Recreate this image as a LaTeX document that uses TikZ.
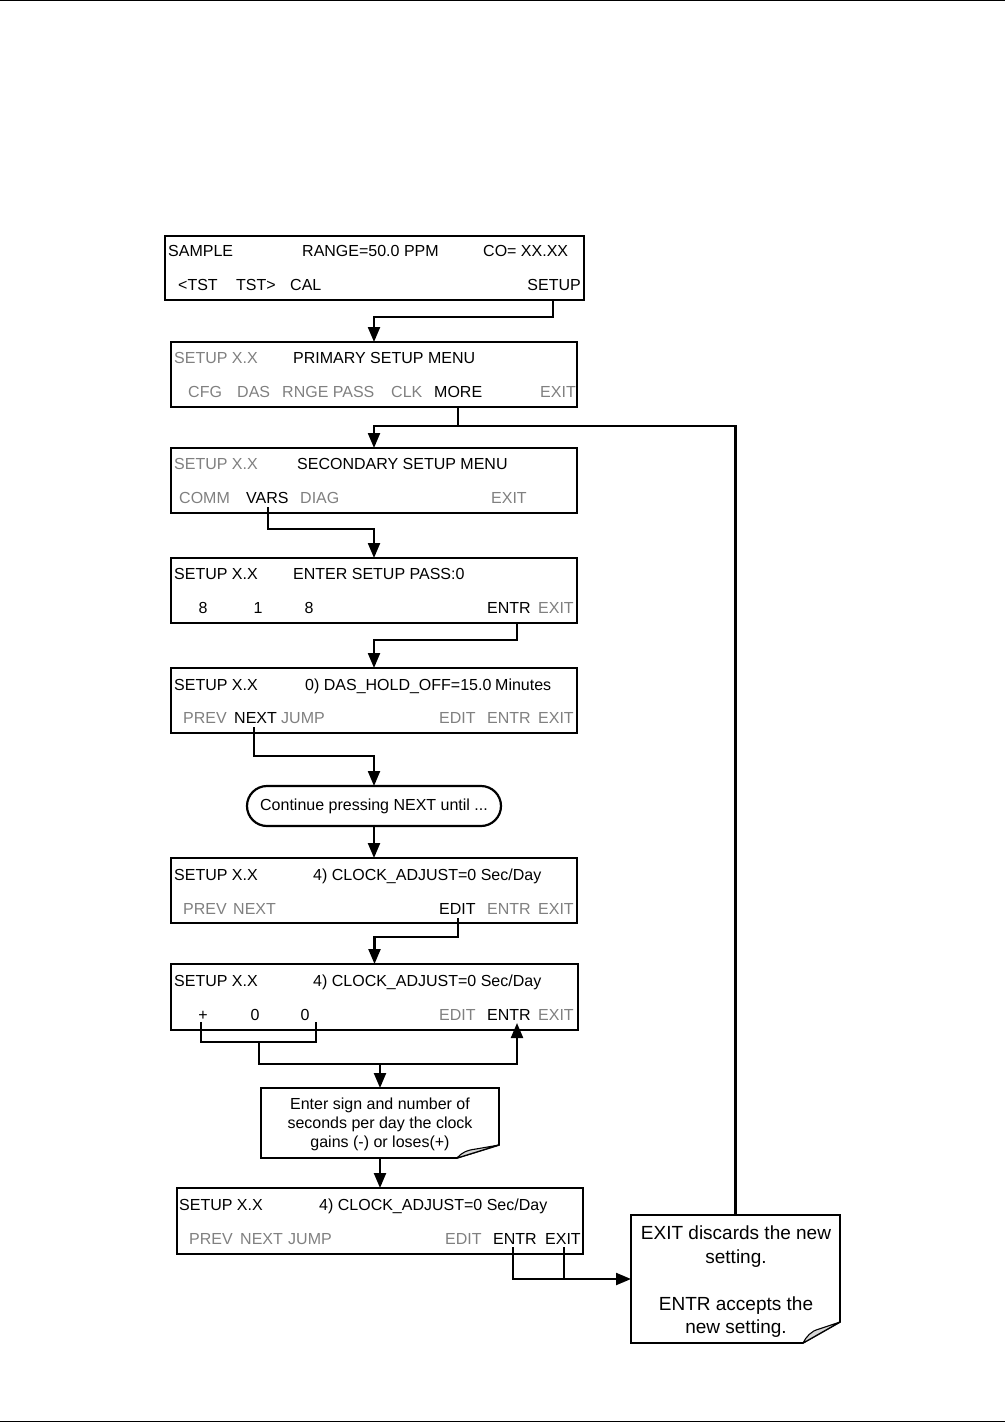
\documentclass[tikz,border=0pt]{standalone}
\usepackage{fontspec}
\setmainfont{Liberation Sans}
\usetikzlibrary{arrows.meta,calc}
\definecolor{mgray}{RGB}{128,128,128}
\definecolor{flapgray}{RGB}{215,215,215}
\begin{document}
\begin{tikzpicture}[x=1pt,y=-1pt,
  scr/.style={draw,line width=2.7pt,inner sep=0pt,outer sep=0pt},
  conn/.style={line width=2.2pt},
  arr/.style={conn,-{Triangle[length=15pt,width=12pt]}},
  tb/.style={anchor=base west,inner sep=0pt,font=\fontsize{16}{19}\selectfont,text=black},
  tg/.style={tb,text=mgray},
  tbe/.style={tb,anchor=base east},
  tge/.style={tg,anchor=base east},
  tbc/.style={tb,anchor=base},
  notebox/.style={inner sep=0pt,outer sep=0pt},
  notetext/.style={align=center,inner sep=0pt,text=black}
]
\useasboundingbox (0,0) rectangle (1005,1422);
% page rules
\coordinate (tl) at (0,0.7); \coordinate (tr) at (1005,0.7);
\coordinate (bl) at (0,1421.3); \coordinate (br) at (1005,1421.3);
\draw[line width=1.3pt] (tl) -- (tr);
\draw[line width=1.3pt] (bl) -- (br);

% ---------- screens ----------
\node[scr,minimum width=419pt,minimum height=64pt] (b1) at (374.5,268) {};
\node[scr,minimum width=406pt,minimum height=65pt] (b2) at (374,374.5) {};
\node[scr,minimum width=406pt,minimum height=65pt] (b3) at (374,480.5) {};
\node[scr,minimum width=406pt,minimum height=65pt] (b4) at (374,590.5) {};
\node[scr,minimum width=406pt,minimum height=65pt] (b5) at (374,700.5) {};
\node[scr,minimum width=406pt,minimum height=65pt] (b7) at (374,890.5) {};
\node[scr,minimum width=407pt,minimum height=66pt] (b8) at (374.5,997) {};
\node[scr,minimum width=406pt,minimum height=66pt] (b10) at (380,1221) {};

% b1
\node[tb] (t1a) at (168,256) {SAMPLE};
\node[tb] (t1b) at (302,256) {RANGE=50.0 PPM};
\node[tb] (t1c) at (483,256) {CO= XX.XX};
\node[tb] (t1d) at (178,290) {<TST};
\node[tb] (t1e) at (236,290) {TST>};
\node[tb] (t1f) at (290,290) {CAL};
\node[tbe] (t1g) at (581,290) {SETUP};
% b2
\node[tg] (t2a) at (174,363) {SETUP X.X};
\node[tb] (t2b) at (293,363) {PRIMARY SETUP MENU};
\node[tg] (t2c) at (188,397) {CFG};
\node[tg] (t2d) at (237,397) {DAS};
\node[tg] (t2e) at (282,397) {RNGE PASS};
\node[tg] (t2f) at (391,397) {CLK};
\node[tb] (t2g) at (434,397) {MORE};
\node[tge] (t2h) at (576,397) {EXIT};
% b3
\node[tg] (t3a) at (174,469) {SETUP X.X};
\node[tb] (t3b) at (297,469) {SECONDARY SETUP MENU};
\node[tg] (t3c) at (179,503) {COMM};
\node[tb] (t3d) at (246,503) {VARS};
\node[tg] (t3e) at (300,503) {DIAG};
\node[tg] (t3f) at (491,503) {EXIT};
% b4
\node[tb] (t4a) at (174,579) {SETUP X.X};
\node[tb] (t4b) at (293,579) {ENTER SETUP PASS:0};
\node[tbc] (t4c) at (203,613) {8};
\node[tbc] (t4d) at (258,613) {1};
\node[tbc] (t4e) at (309,613) {8};
\node[tb] (t4f) at (487,613) {ENTR};
\node[tg] (t4g) at (538,613) {EXIT};
% b5
\node[tb] (t5a) at (174,690) {SETUP X.X};
\node[tb] (t5b) at (305,690) {0) DAS\_HOLD\_OFF=15.0};
\node[tb] (t5c) at (495,690) {Minutes};
\node[tg] (t5d) at (183,723) {PREV};
\node[tb] (t5e) at (234,723) {NEXT};
\node[tg] (t5f) at (281,723) {JUMP};
\node[tg] (t5g) at (439,723) {EDIT};
\node[tg] (t5h) at (487,723) {ENTR};
\node[tg] (t5i) at (538,723) {EXIT};
% rounded
\node[draw,line width=2.2pt,rounded corners=20pt,minimum width=254pt,minimum height=40pt,
      inner sep=0pt,outer sep=0pt,font=\fontsize{16}{19}\selectfont] (rb) at (374,806)
      {Continue pressing NEXT until ...};
% b7
\node[tb] (t7a) at (174,880) {SETUP X.X};
\node[tb] (t7b) at (313,880) {4) CLOCK\_ADJUST=0 Sec/Day};
\node[tg] (t7c) at (183,914) {PREV};
\node[tg] (t7d) at (233,914) {NEXT};
\node[tb] (t7e) at (439,914) {EDIT};
\node[tg] (t7f) at (487,914) {ENTR};
\node[tg] (t7g) at (538,914) {EXIT};
% b8
\node[tb] (t8a) at (174,986) {SETUP X.X};
\node[tb] (t8b) at (313,986) {4) CLOCK\_ADJUST=0 Sec/Day};
\node[tbc] (t8c) at (203,1020) {+};
\node[tbc] (t8d) at (255,1020) {0};
\node[tbc] (t8e) at (305,1020) {0};
\node[tg] (t8f) at (439,1020) {EDIT};
\node[tb] (t8g) at (487,1020) {ENTR};
\node[tg] (t8h) at (538,1020) {EXIT};
% b10
\node[tb] (t10a) at (179,1210) {SETUP X.X};
\node[tb] (t10b) at (319,1210) {4) CLOCK\_ADJUST=0 Sec/Day};
\node[tg] (t10c) at (189,1244) {PREV};
\node[tg] (t10d) at (240,1244) {NEXT};
\node[tg] (t10e) at (288,1244) {JUMP};
\node[tg] (t10f) at (445,1244) {EDIT};
\node[tb] (t10g) at (493,1244) {ENTR};
\node[tb] (t10h) at (545,1244) {EXIT};

% ---------- notes ----------
\node[notebox,minimum width=238pt,minimum height=70pt] (n1) at (380,1123) {};
\draw[line width=1.6pt] (n1.north west) -- (n1.north east) -- ($(n1.south east)+(0,-13)$)
   -- ($(n1.south east)+(-42,0)$) -- (n1.south west) -- cycle;
\draw[line width=1.1pt,fill=flapgray] ($(n1.south east)+(-42,0)$) -- ($(n1.south east)+(0,-13)$)
   -- ($(n1.south east)+(-23,-9)$) .. controls ($(n1.south east)+(-32,-8)$) and ($(n1.south east)+(-38,-5)$) .. ($(n1.south east)+(-42,0)$);
\node[notetext,font=\fontsize{16}{19}\selectfont] (n1t) at (380,1124)
   {Enter sign and number of\\seconds per day the clock\\gains (-) or loses(+)};

\node[notebox,minimum width=209pt,minimum height=128pt] (n2) at (735.5,1279) {};
\draw[line width=1.6pt] (n2.north west) -- (n2.north east) -- ($(n2.south east)+(0,-21)$)
   -- ($(n2.south east)+(-37,0)$) -- (n2.south west) -- cycle;
\draw[line width=1.1pt,fill=flapgray] ($(n2.south east)+(-37,0)$) -- ($(n2.south east)+(0,-21)$)
   -- ($(n2.south east)+(-21,-14)$) .. controls ($(n2.south east)+(-29,-12)$) and ($(n2.south east)+(-34,-6)$) .. ($(n2.south east)+(-37,0)$);
\node[notetext,font=\fontsize{19}{23.5}\selectfont] (n2t) at (736,1282)
   {EXIT discards the new\\setting.\\[23.5pt]ENTR accepts the\\new setting.};

% ---------- connectors ----------
\coordinate (p1) at (553,300);
\draw[arr] (p1) -- ++(0,17) -| (b2.north);

\coordinate (p2) at (458,407);
\coordinate (j2) at (458,426);
\draw[conn] (p2) -- (j2);
\draw[arr] (n2.north) |- (j2) -| (b3.north);

\coordinate (p3) at (268,507);
\draw[arr] (p3) -- ++(0,22) -| (b4.north);

\coordinate (p4) at (517,623);
\draw[arr] (p4) -- ++(0,17) -| (b5.north);

\coordinate (p5) at (254,727);
\draw[arr] (p5) -- ++(0,29) -| (rb.north);

\draw[arr] (rb.south) -- (b7.north);

\coordinate (p7) at (458,918);
\draw[arr] (p7) -- ++(0,19) -| (b8.north);

\coordinate (pl) at (201,1022);
\coordinate (pr) at (316,1022);
\draw[conn] (pl) -- ++(0,20) -| (pr);
\coordinate (bm) at (259,1042);
\coordinate (ent) at (517,1023);
\draw[arr] (bm) -- ++(0,22) -| (ent);
\coordinate (bj) at (380,1064);
\draw[arr] (bj) -- (n1.north);

\draw[arr] (n1.south) -- (b10.north);

\coordinate (q1) at (513,1247);
\coordinate (q2) at (564,1247);
\draw[arr] (q1) |- (n2.west);
\draw[conn] (q2) -- (q2 |- n2.west);
\end{tikzpicture}
\end{document}
